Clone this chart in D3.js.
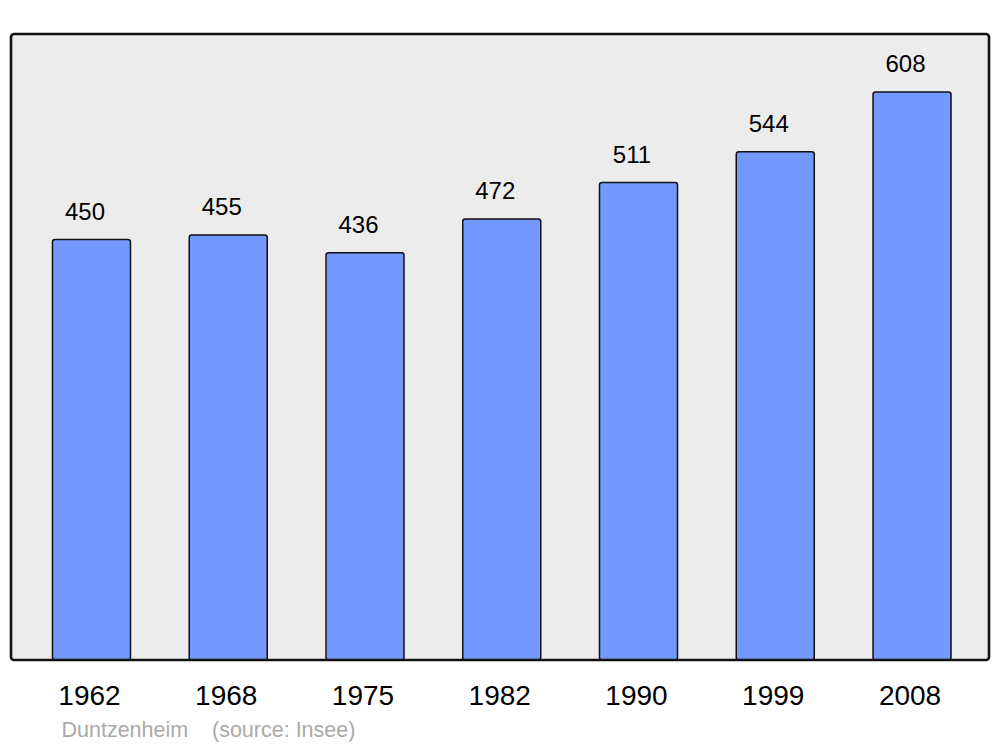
<!DOCTYPE html>
<html><head><meta charset="utf-8">
<script src="https://cdn.jsdelivr.net/npm/d3@7"></script>
<style>html,body{margin:0;padding:0;background:#fff;}svg{display:block;font-family:"Liberation Sans",Arial,sans-serif;}</style>
</head><body>
<svg id="chart" width="1000" height="747"></svg>
<script>
const years = ["1962","1968","1975","1982","1990","1999","2008"];
const population = [450,455,436,472,511,544,608];
const commune = "Duntzenheim";
const sourceText = "(source: Insee)";

const svg = d3.select("#chart");
const frame = {x0: 11, y0: 34, x1: 989, y1: 660};

svg.append("rect")
  .attr("x", frame.x0).attr("y", frame.y0)
  .attr("width", frame.x1 - frame.x0).attr("height", frame.y1 - frame.y0)
  .attr("rx", 3).attr("fill", "#ececec");

const x = d3.scaleBand().domain(years).range([23.1, 980.4]).paddingInner(0.4296).paddingOuter(0.2148);
const y = d3.scaleLinear().domain([0, 670]).range([frame.y1, frame.y0]);

svg.selectAll("rect.bar").data(years).join("rect")
  .attr("class", "bar")
  .attr("x", d => x(d))
  .attr("y", (d, i) => y(population[i]))
  .attr("width", x.bandwidth())
  .attr("height", (d, i) => y(0) - y(population[i]))
  .attr("rx", 2.5)
  .attr("fill", "#7399ff").attr("stroke", "#111").attr("stroke-width", 1.5);

svg.selectAll("text.val").data(years).join("text")
  .attr("class", "val")
  .attr("x", d => x(d) + x.bandwidth() / 2 - 6.5)
  .attr("y", (d, i) => y(population[i]) - 19.5)
  .attr("text-anchor", "middle").attr("font-size", 24).attr("fill", "#000")
  .text((d, i) => population[i]);

// frame border on top
svg.append("rect")
  .attr("x", frame.x0).attr("y", frame.y0)
  .attr("width", frame.x1 - frame.x0).attr("height", frame.y1 - frame.y0)
  .attr("rx", 3).attr("fill", "none").attr("stroke", "#111").attr("stroke-width", 2.6);

const xAxis = d3.axisBottom(x).tickSize(0).tickPadding(0);
const gx = svg.append("g").attr("transform", `translate(-2,${frame.y1})`).call(xAxis);
gx.select(".domain").remove();
gx.selectAll("text").attr("font-size", 28).attr("font-family", "Liberation Sans, Arial, sans-serif")
  .attr("fill", "#000").attr("dy", null).attr("y", 45);

const src = svg.append("text").attr("y", 737).attr("font-size", 21.5).attr("fill", "#aaa");
src.append("tspan").attr("x", 61.5).text(commune);
src.append("tspan").attr("x", 212).text(sourceText);
</script>
</body></html>
